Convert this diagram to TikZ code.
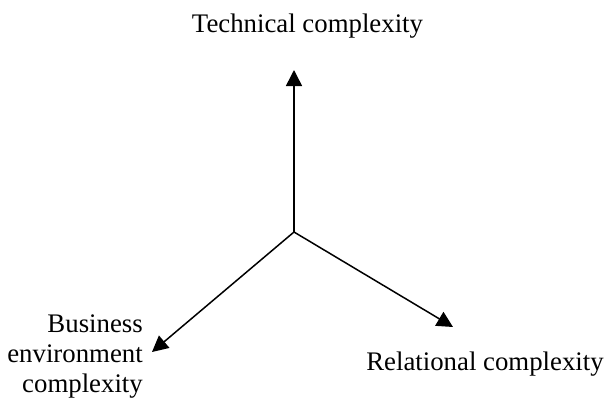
\documentclass[tikz,border=0pt]{standalone}
\usepackage{fontspec}
\setmainfont{Liberation Serif}
\usetikzlibrary{arrows.meta}
\begin{document}
\begin{tikzpicture}[x=1pt,y=-1pt,
  lbl/.style={inner sep=0pt,font=\fontsize{26.8}{30}\selectfont},
  axis/.style={line width=1.5pt,-{Triangle[length=16pt,width=16pt]}}]
\useasboundingbox (0,0) rectangle (606,399);
\coordinate (o) at (294,232);
\coordinate (t) at (294,70);
\coordinate (l) at (152,352);
\coordinate (r) at (453,327);
\node[lbl,anchor=base] (tech) at (307.5,32) {Technical complexity};
\node[lbl,anchor=base] (rel) at (485,370) {Relational complexity};
\node[lbl,anchor=base east,align=right] (bus) at (143,392) {Business\\environment\\complexity};
\draw[axis] (o) -- (t);
\draw[axis] (o) -- (l);
\draw[axis] (o) -- (r);
\end{tikzpicture}
\end{document}
